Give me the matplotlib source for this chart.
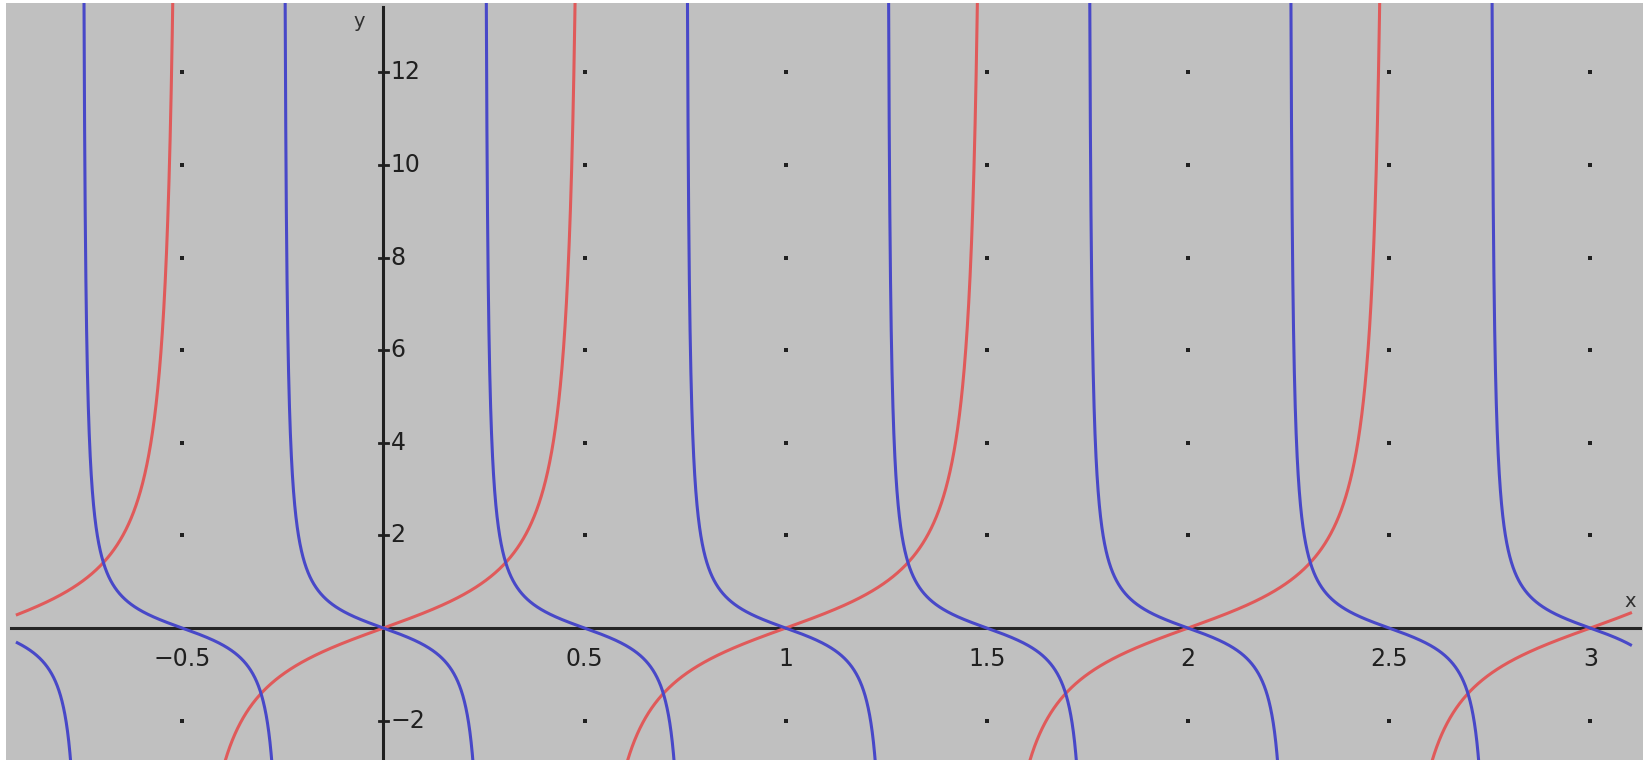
import numpy as np
import matplotlib.pyplot as plt

# plotted range of the two curves
x_start, x_end = -0.91, 3.1

# red curve: tan(pi x), blue curve: -tan(2 pi x) / 2
red_poles = [-0.5, 0.5, 1.5, 2.5]
blue_poles = [-0.75, -0.25, 0.25, 0.75, 1.25, 1.75, 2.25, 2.75]

x_ticks = [-0.5, 0.5, 1, 1.5, 2, 2.5, 3]
x_labels = ['\u22120.5', '0.5', '1', '1.5', '2', '2.5', '3']
y_ticks = [-2, 2, 4, 6, 8, 10, 12]
y_labels = ['\u22122', '2', '4', '6', '8', '10', '12']


def red(x):
    return np.tan(np.pi * x)


def blue(x):
    return -np.tan(2 * np.pi * x) / 2


def branches(f, poles):
    '''Split [x_start, x_end] at the poles and evaluate f on each piece.'''
    edges = [x_start] + poles + [x_end]
    out = []
    for a, b in zip(edges[:-1], edges[1:]):
        x = np.linspace(a + 1e-4, b - 1e-4, 2000)
        y = f(x)
        y[np.abs(y) > 40] = np.nan
        out.append((x, y))
    return out


fig = plt.figure(figsize=(16.43, 7.6), dpi=100, facecolor='white')
ax = fig.add_axes([6 / 1643, 0, 1 - 6 / 1643, 1 - 3 / 760])
ax.set_facecolor('#c0c0c0')
ax.set_xlim(-0.938, 3.131)
ax.set_ylim(-2.85, 13.5)
for s in ax.spines.values():
    s.set_visible(False)
ax.set_xticks([])
ax.set_yticks([])

# grid of dots
gx, gy = np.meshgrid(x_ticks, y_ticks)
ax.scatter(gx.ravel(), gy.ravel(), s=6, marker='s', color='#202020', lw=0, zorder=1)

# axes lines
ax.axhline(0, xmin=0.003, xmax=0.998, color='#252525', lw=2.2, zorder=2)
ax.axvline(0, ymin=0, ymax=0.995, color='#202020', lw=2.2, zorder=2)

for x, y in branches(red, red_poles):
    ax.plot(x, y, color='#e05a5a', lw=2.2, zorder=3)
for x, y in branches(blue, blue_poles):
    ax.plot(x, y, color='#4848c8', lw=2.2, zorder=4)

# tick marks and labels
tk = dict(color='#202020', fontsize=17, fontfamily='DejaVu Sans')
for v, lab in zip(y_ticks, y_labels):
    ax.plot([-0.012, 0.012], [v, v], color='#202020', lw=2, zorder=2)
    ax.text(0.018, v, lab, ha='left', va='center', **tk)
for v, lab in zip(x_ticks, x_labels):
    ax.text(v, -0.42, lab, ha='center', va='top', **tk)

ax.text(-0.06, 13.1, 'y', ha='center', va='center', color='#303030', fontsize=14)
ax.text(3.1, 0.58, 'x', ha='center', va='center', color='#303030', fontsize=14)

fig.savefig('out.png', dpi=100, facecolor=fig.get_facecolor())
